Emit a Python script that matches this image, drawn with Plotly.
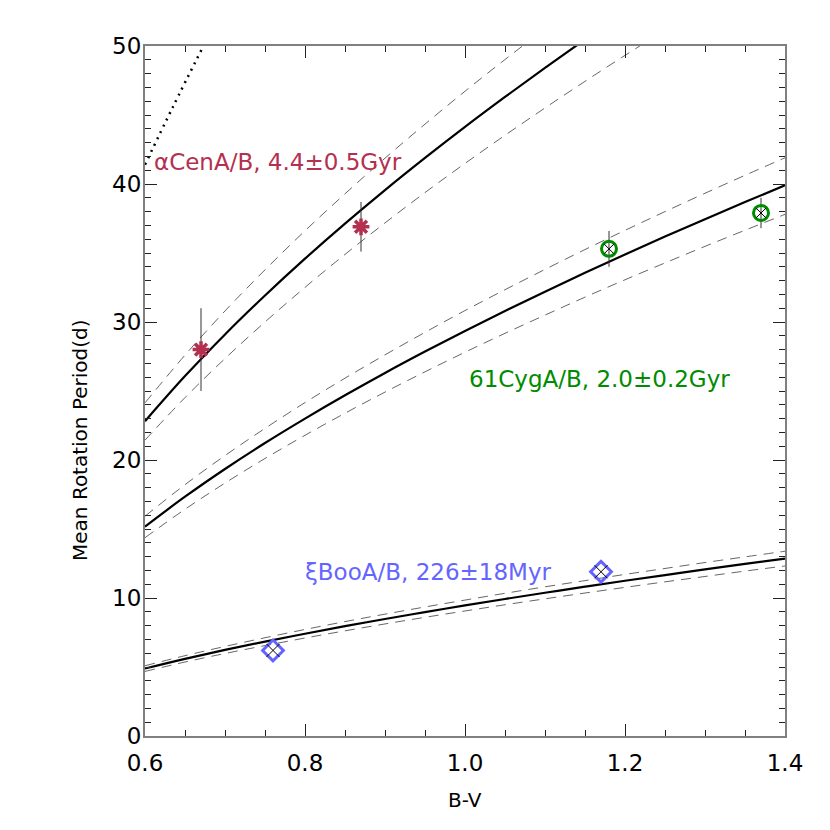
import plotly.graph_objects as go

# ---- data ----
bv_grid = [0.60, 0.65, 0.70, 0.75, 0.80, 0.85, 0.90, 0.95, 1.00,
           1.05, 1.10, 1.15, 1.20, 1.25, 1.30, 1.35, 1.40]

acen_mid = [22.81, 26.08, 29.10, 31.92, 34.59, 37.13, 39.56, 41.89, 44.14,
            46.31, 48.42, 50.47, 52.47, 54.41, 56.32, 58.18, 60.0]
acen_hi = [24.14, 27.60, 30.80, 33.78, 36.61, 39.29, 41.87, 44.34, 46.72,
           49.02, 51.24, 53.42, 55.53, 57.59, 59.60, 61.57, 63.5]
acen_lo = [21.44, 24.52, 27.35, 30.00, 32.51, 34.90, 37.18, 39.38, 41.49,
           43.53, 45.51, 47.44, 49.32, 51.15, 52.94, 54.69, 56.4]

cyg_mid = [15.17, 17.34, 19.35, 21.23, 23.00, 24.69, 26.31, 27.86, 29.35,
           30.80, 32.20, 33.56, 34.89, 36.19, 37.45, 38.69, 39.9]
cyg_hi = [15.93, 18.21, 20.32, 22.29, 24.16, 25.93, 27.62, 29.25, 30.83,
          32.34, 33.81, 35.25, 36.64, 38.00, 39.33, 40.63, 41.9]
cyg_lo = [14.37, 16.43, 18.33, 20.11, 21.79, 23.39, 24.92, 26.39, 27.81,
          29.18, 30.50, 31.80, 33.06, 34.28, 35.48, 36.65, 37.8]

boo_mid = [4.89, 5.59, 6.24, 6.84, 7.41, 7.96, 8.48, 8.98, 9.46,
           9.93, 10.38, 10.82, 11.25, 11.66, 12.07, 12.47, 12.86]
boo_hi = [5.09, 5.82, 6.49, 7.12, 7.72, 8.29, 8.83, 9.35, 9.85,
          10.34, 10.81, 11.26, 11.71, 12.14, 12.57, 12.98, 13.39]
boo_lo = [4.68, 5.36, 5.98, 6.55, 7.10, 7.62, 8.12, 8.60, 9.06,
          9.51, 9.94, 10.36, 10.77, 11.17, 11.56, 11.95, 12.32]

dot_x = [0.6, 0.635, 0.673]
dot_y = [41.4, 45.6, 50.0]

acen_bv = [0.67, 0.87]
acen_p = [28.0, 36.9]
acen_err = [3.0, 1.8]

cyg_bv = [1.18, 1.37]
cyg_p = [35.3, 37.9]
cyg_err = [1.3, 1.1]

boo_bv = [0.76, 1.17]
boo_p = [6.2, 11.9]

x_ticks = [0.6, 0.8, 1.0, 1.2, 1.4]
x_ticklabels = ["0.6", "0.8", "1.0", "1.2", "1.4"]
y_ticks = [0, 10, 20, 30, 40, 50]
y_ticklabels = ["0", "10", "20", "30", "40", "50"]

RED = "#b4304f"
GREEN = "#008c00"
BLUE = "#6464ff"
FONT = "DejaVu Sans"

fig = go.Figure()


def curve(y, dash, width, color):
    fig.add_trace(go.Scatter(x=bv_grid, y=y, mode="lines", line_shape="spline",
                             line=dict(color=color, width=width, dash=dash),
                             hoverinfo="skip", showlegend=False))


for mid, hi, lo in [(acen_mid, acen_hi, acen_lo), (cyg_mid, cyg_hi, cyg_lo), (boo_mid, boo_hi, boo_lo)]:
    curve(hi, "10px,7px", 0.9, "#555555")
    curve(lo, "10px,7px", 0.9, "#555555")
    curve(mid, "solid", 2.2, "black")

fig.add_trace(go.Scatter(x=dot_x, y=dot_y, mode="lines", line_shape="spline",
                         line=dict(color="black", width=2.5, dash="2px,5px"),
                         showlegend=False, hoverinfo="skip"))

# alpha Cen
fig.add_trace(go.Scatter(x=acen_bv, y=acen_p, mode="markers",
                         error_y=dict(type="data", array=acen_err, color="#333333", thickness=1, width=0),
                         marker=dict(symbol="asterisk-open", size=14, color=RED, line=dict(color=RED, width=3.5)),
                         showlegend=False))
# 61 Cyg
fig.add_trace(go.Scatter(x=cyg_bv, y=cyg_p, mode="markers",
                         error_y=dict(type="data", array=cyg_err, color="#333333", thickness=1, width=0),
                         marker=dict(symbol="circle-open", size=15, color=GREEN, line=dict(color=GREEN, width=3)),
                         showlegend=False))
fig.add_trace(go.Scatter(x=cyg_bv, y=cyg_p, mode="markers",
                         marker=dict(symbol="x-thin-open", size=10, color="black", line=dict(color="black", width=1)),
                         showlegend=False))
# xi Boo
fig.add_trace(go.Scatter(x=boo_bv, y=boo_p, mode="markers",
                         marker=dict(symbol="diamond-open", size=16, color=BLUE, line=dict(color=BLUE, width=3)),
                         showlegend=False))
fig.add_trace(go.Scatter(x=boo_bv, y=boo_p, mode="markers",
                         marker=dict(symbol="x-thin-open", size=13, color="black", line=dict(color="black", width=1)),
                         showlegend=False))

ann = [
    (0.609, 41.6, "αCenA/B, 4.4±0.5Gyr", RED),
    (1.0025, 25.9, "61CygA/B, 2.0±0.2Gyr", GREEN),
    (0.7975, 11.9, "ξBooA/B, 226±18Myr", BLUE),
]
for x, y, t, c in ann:
    fig.add_annotation(x=x, y=y, text=t, showarrow=False, xanchor="left", yanchor="middle",
                       font=dict(family=FONT, size=23, color=c))

# axis titles
fig.add_annotation(xref="paper", yref="paper", x=-0.1016, y=0.429, text="Mean Rotation Period(d)",
                   textangle=-90, showarrow=False, xanchor="center", yanchor="middle",
                   font=dict(family=FONT, size=20, color="black"))
fig.add_annotation(xref="paper", yref="paper", x=0.5, y=-0.0928, text="B-V",
                   showarrow=False, xanchor="center", yanchor="middle",
                   font=dict(family=FONT, size=20, color="black"))

axis_common = dict(showline=True, linecolor="#808080", linewidth=2, mirror="allticks",
                   ticks="inside", ticklen=12, tickwidth=1, tickcolor="#222222",
                   showgrid=False, zeroline=False,
                   tickfont=dict(family=FONT, size=23, color="black"))

fig.update_xaxes(range=[0.6, 1.4], tickvals=x_ticks, ticktext=x_ticklabels, ticklabelstandoff=5,
                 minor=dict(dtick=0.05, ticks="inside", ticklen=6, tickcolor="#222222", showgrid=False),
                 **axis_common)
fig.update_yaxes(range=[0, 50], tickvals=y_ticks, ticktext=y_ticklabels, ticklabelstandoff=-3,
                 minor=dict(dtick=1, ticks="inside", ticklen=6, tickcolor="#222222", showgrid=False),
                 **axis_common)

fig.update_layout(width=830, height=830, plot_bgcolor="white", paper_bgcolor="white",
                  margin=dict(l=137, r=53, t=38, b=102), showlegend=False)

fig.write_html("out.html")
